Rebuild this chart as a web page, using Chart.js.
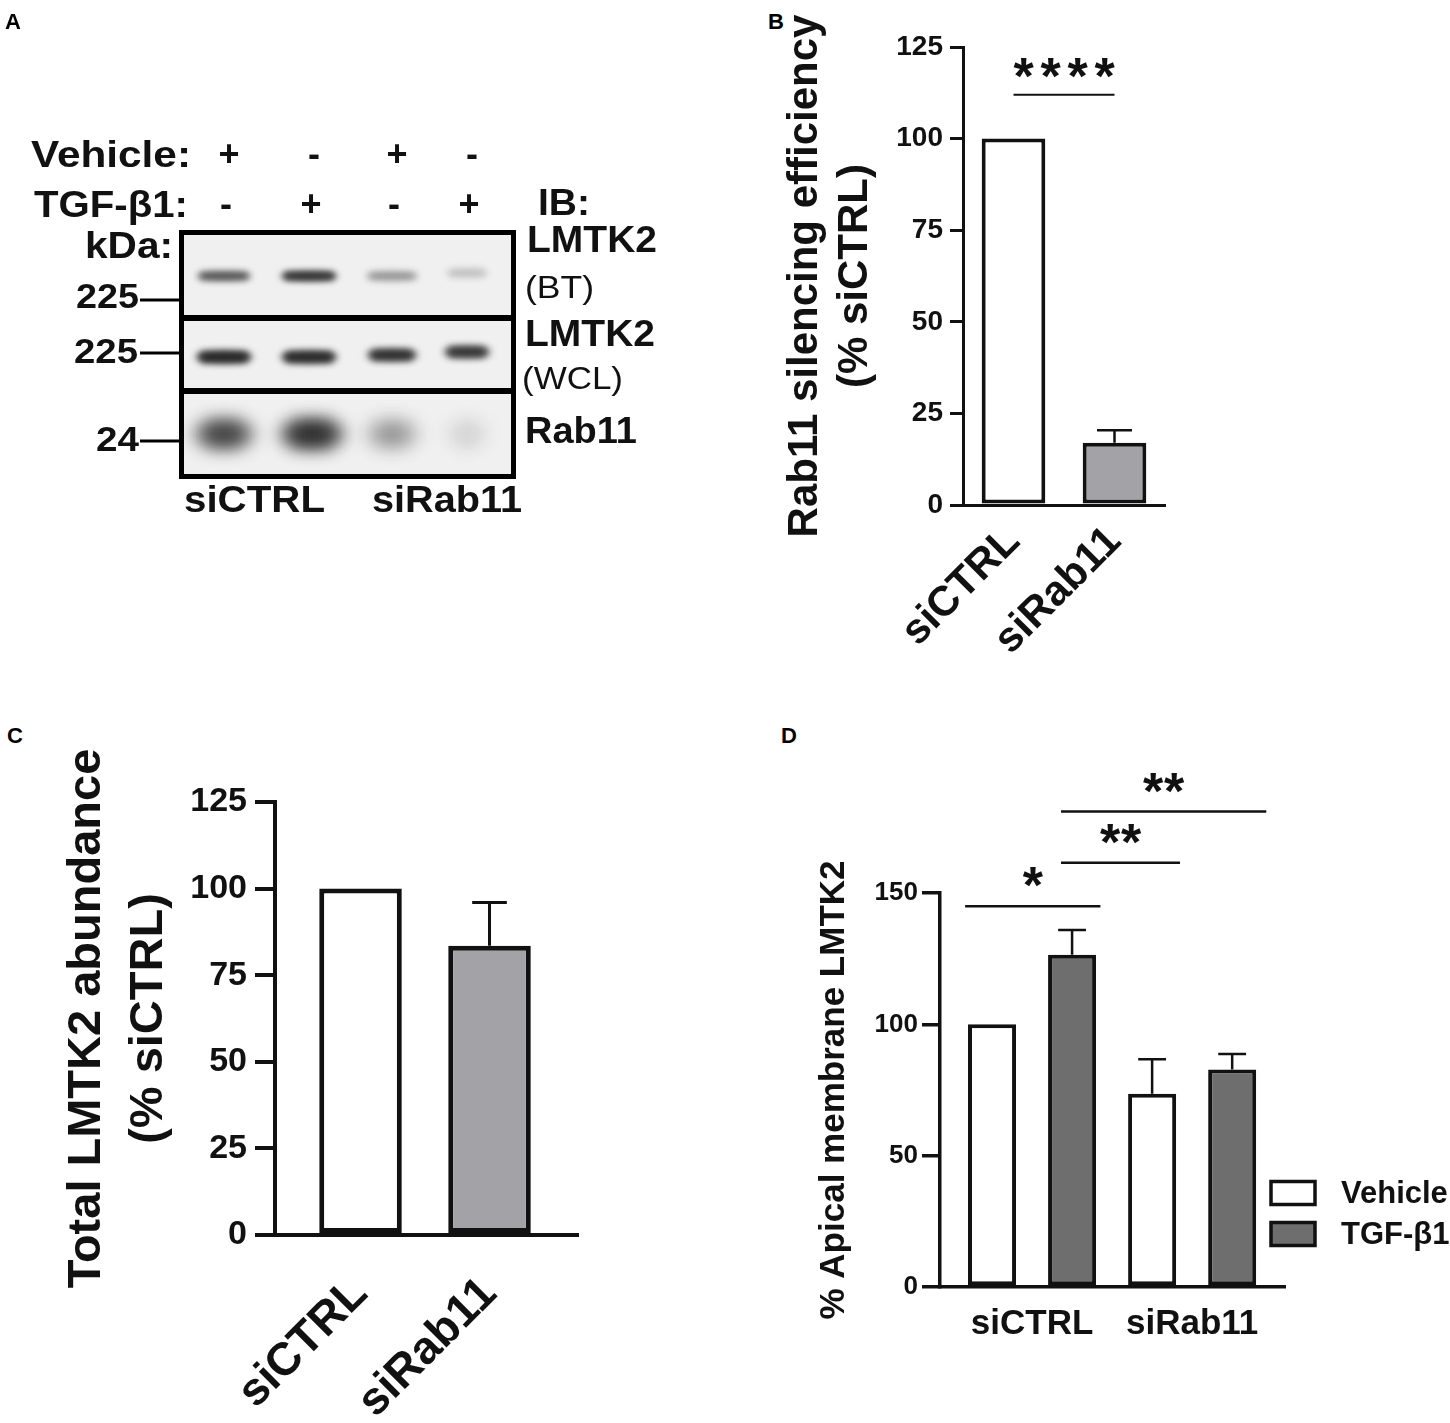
<!DOCTYPE html>
<html>
<head>
<meta charset="utf-8">
<script src="https://cdn.jsdelivr.net/npm/chart.js@4.4.0/dist/chart.umd.min.js"></script>
<style>
html, body { margin: 0; padding: 0; background: #fff; overflow: hidden; }
body { width: 1450px; height: 1423px; position: relative; font-family: "Liberation Sans", Arial, sans-serif; }
.panel { position: absolute; }
.tag { position: absolute; font: bold 22px "Liberation Sans", Arial, sans-serif; color: #000; line-height: 1; }
</style>
</head>
<body>
<canvas id="blot" width="700" height="540" style="position:absolute;left:0;top:0"></canvas>
<div class="tag" style="left:5px;top:11px">A</div>
<div class="tag" style="left:768px;top:11px">B</div>
<div class="tag" style="left:7px;top:725px">C</div>
<div class="tag" style="left:781px;top:725px">D</div>

<div class="panel" style="left:760px;top:0;width:440px;height:700px"><canvas id="chartB"></canvas></div>
<div class="panel" style="left:0;top:720px;width:620px;height:703px"><canvas id="chartC"></canvas></div>
<div class="panel" style="left:780px;top:720px;width:670px;height:703px"><canvas id="chartD"></canvas></div>

<script>
var FONT = '"Liberation Sans", Arial, sans-serif';

// ---- data ----
var groups = ['siCTRL', 'siRab11'];

// B: Rab11 silencing
var rab11Silencing = [100, 17.0];
var rab11SilencingErr = [0, 3.4];
var yTicksB = [0, 25, 50, 75, 100, 125];
var sigBFrom = [0], sigBTo = [1], sigBLevel = [112], sigBText = ['****'];

// C: total LMTK2
var lmtk2Total = [100, 83.5];
var lmtk2TotalErr = [0, 12.5];
var yTicksC = [0, 25, 50, 75, 100, 125];

// D: apical membrane LMTK2
var treatments = ['Vehicle', 'TGF-β1'];
var apicalVehicle = [100, 73.6];
var apicalVehicleErr = [0, 13.1];
var apicalTgf = [126.5, 82.8];
var apicalTgfErr = [9.4, 5.9];
var yTicksD = [0, 50, 100, 150];
var sigDFrom = [0, 1, 1], sigDTo = [1, 2, 3], sigDLevel = [145, 161.5, 181], sigDText = ['*', '**', '**'];

// A: blot
var vehicleSigns = ['+', '-', '+', '-'];
var tgfSigns = ['-', '+', '-', '+'];
var bandBT = [0.5, 0.72, 0.25, 0.12];
var bandWCL = [0.85, 0.82, 0.75, 0.7];
var bandRab11 = [0.6, 0.75, 0.25, 0.08];

// ---- panel A (blot picture) ----
var bc = document.getElementById('blot').getContext('2d');
function txt(s, x, y, size, w, weight) {
    bc.save();
    bc.font = (weight || 'bold') + ' ' + size + 'px ' + FONT;
    var m = bc.measureText(s).width;
    bc.translate(x, y);
    if (w) bc.scale(w / m, 1);
    bc.textAlign = 'left';
    bc.textBaseline = 'middle';
    bc.fillStyle = '#111';
    bc.fillText(s, 0, 0);
    bc.restore();
}
function ctxt(s, x, y, size) {
    bc.save();
    bc.font = 'bold ' + size + 'px ' + FONT;
    bc.textAlign = 'center';
    bc.textBaseline = 'middle';
    bc.fillStyle = '#111';
    bc.fillText(s, x, y);
    bc.restore();
}
function band(cx, cy, w, h, a) {
    bc.save();
    bc.filter = 'blur(' + Math.max(2, h / 3) + 'px)';
    bc.fillStyle = 'rgba(30,30,30,' + a + ')';
    bc.beginPath();
    bc.ellipse(cx, cy, w / 2, h / 2, 0, 0, Math.PI * 2);
    bc.fill();
    bc.fillRect(cx - w / 2 + h / 2, cy - h / 2, w - h, h);
    bc.restore();
}

var laneX = [224, 309, 392, 467];
txt('Vehicle:', 31, 157, 36, 160);
txt('TGF-β1:', 34, 207, 36, 154);
for (var i = 0; i < 4; i++) {
    ctxt(vehicleSigns[i], laneX[i] + 5, 156, 36);
    ctxt(tgfSigns[i], laneX[i] + 2, 206, 36);
}
txt('IB:', 538, 205, 36, 52);
txt('kDa:', 85, 248, 36, 88);

// blot frame
bc.fillStyle = '#f0f0f0';
bc.fillRect(181, 232, 333, 244);
bc.lineWidth = 5;
bc.strokeStyle = '#000';
bc.strokeRect(181.5, 232.5, 332, 244);
bc.lineWidth = 6;
bc.beginPath();
bc.moveTo(181, 318); bc.lineTo(514, 318);
bc.moveTo(181, 391); bc.lineTo(514, 391);
bc.stroke();

for (var i = 0; i < 4; i++) {
    band(laneX[i], 276 - (i === 3 ? 3 : 0), [56, 58, 54, 44][i], 9, bandBT[i]);
    band(laneX[i], 357 - (i === 3 ? 5 : i === 2 ? 2 : 0), [58, 58, 52, 48][i], 11, bandWCL[i]);
    band(laneX[i] + (i === 1 ? 3 : 0), 434, [62, 66, 56, 44][i], 26, bandRab11[i]);
}

// marker ladder
txt('225', 76, 298, 35, 63);
txt('225', 74, 353, 35, 64);
txt('24', 96, 441, 35, 43);
bc.lineWidth = 3;
bc.beginPath();
bc.moveTo(140, 300); bc.lineTo(181, 300);
bc.moveTo(140, 353); bc.lineTo(181, 353);
bc.moveTo(140, 441); bc.lineTo(181, 441);
bc.stroke();

txt('LMTK2', 527, 242, 36, 130);
txt('(BT)', 525, 289, 31, 69, 'normal');
txt('LMTK2', 525, 336, 36, 130);
txt('(WCL)', 522, 380, 31, 101, 'normal');
txt('Rab11', 525, 433, 36, 112);
txt('siCTRL', 184, 502, 36, 141);
txt('siRab11', 372, 502, 36, 150);

// ---- chart plugins ----
var errorBars = {
    id: 'errorBars',
    afterDatasetsDraw: function(chart, args, opts) {
        var ctx = chart.ctx, y = chart.scales.y;
        chart.data.datasets.forEach(function(ds, d) {
            if (!ds.errors) return;
            chart.getDatasetMeta(d).data.forEach(function(bar, i) {
                var e = ds.errors[i];
                if (!e) return;
                var raw = ds.data[i];
                var v = (typeof raw === 'object') ? raw.y : raw;
                var top = y.getPixelForValue(v + e);
                var cap = bar.width * opts.cap / 2;
                ctx.save();
                ctx.strokeStyle = '#111';
                ctx.lineWidth = opts.width;
                ctx.beginPath();
                ctx.moveTo(bar.x, bar.y);
                ctx.lineTo(bar.x, top);
                ctx.moveTo(bar.x - cap, top);
                ctx.lineTo(bar.x + cap, top);
                ctx.stroke();
                ctx.restore();
            });
        });
    }
};

var sigBars = {
    id: 'sigBars',
    afterDraw: function(chart, args, o) {
        if (!o.from) return;
        var ctx = chart.ctx, y = chart.scales.y;
        var bars = [];
        var n = chart.data.datasets[0].data.length;
        for (var i = 0; i < n; i++) {
            chart.data.datasets.forEach(function(ds, d) {
                bars.push(chart.getDatasetMeta(d).data[i]);
            });
        }
        for (var k = 0; k < o.from.length; k++) {
            var a = bars[o.from[k]], b = bars[o.to[k]];
            var x1 = a.x + a.width * o.fromOff[k];
            var x2 = b.x + b.width * o.toOff[k];
            var ly = y.getPixelForValue(o.level[k]);
            ctx.save();
            ctx.strokeStyle = '#111';
            ctx.lineWidth = o.lineWidth;
            ctx.beginPath();
            ctx.moveTo(x1, ly);
            ctx.lineTo(x2, ly);
            ctx.stroke();
            ctx.font = 'bold ' + o.size + 'px ' + FONT;
            ctx.fillStyle = '#111';
            ctx.textAlign = 'center';
            ctx.textBaseline = 'alphabetic';
            var m = ctx.measureText('*');
            // put the glyph centre `gap` px above the line
            var base = ly - o.gap + (m.actualBoundingBoxAscent - m.actualBoundingBoxDescent) / 2;
            var s = o.text[k];
            var cx = (x1 + x2) / 2;
            for (var j = 0; j < s.length; j++) {
                ctx.fillText(s[j], cx + (j - (s.length - 1) / 2) * o.spacing, base);
            }
            ctx.restore();
        }
    }
};

var sideLegend = {
    id: 'sideLegend',
    afterDraw: function(chart, args, o) {
        if (!o.display) return;
        var ctx = chart.ctx, a = chart.chartArea;
        chart.data.datasets.forEach(function(ds, i) {
            var cy = a.bottom - o.bottomOffset + i * o.rowGap;
            var bx = a.right + o.dx;
            ctx.save();
            ctx.fillStyle = ds.backgroundColor;
            ctx.fillRect(bx, cy - o.boxH / 2, o.boxW, o.boxH);
            ctx.strokeStyle = ds.borderColor;
            ctx.lineWidth = o.lineWidth;
            ctx.strokeRect(bx, cy - o.boxH / 2, o.boxW, o.boxH);
            ctx.font = 'bold ' + o.size + 'px ' + FONT;
            ctx.fillStyle = '#111';
            ctx.textBaseline = 'middle';
            ctx.fillText(ds.label, bx + o.boxW + o.gap, cy + 1);
            ctx.restore();
        });
    }
};

function yAxis(ticks, width, tickFont, tickLen, tickPad, lw, title, titleSize, titleLH, titlePad) {
    return {
        min: ticks[0],
        max: ticks[ticks.length - 1],
        ticks: { stepSize: ticks[1] - ticks[0], color: '#111', padding: tickPad,
                 font: { family: FONT, size: tickFont, weight: 'bold' } },
        grid: { drawOnChartArea: false, color: '#111', tickLength: tickLen, lineWidth: lw },
        border: { color: '#111', width: lw },
        title: { display: true, text: title, color: '#111',
                 font: { family: FONT, size: titleSize, weight: 'bold', lineHeight: titleLH },
                 padding: { top: titlePad, bottom: 0 } },
        afterFit: function(s) { s.width = width; }
    };
}

// linear x axis with one tick per group, so the gaps can match the figure
function groupAxis(min, max, lw, height, fontSize, rot, pad) {
    return {
        type: 'linear', min: min, max: max, offset: false, bounds: 'data',
        grid: { display: false, drawTicks: false, offset: false },
        border: { color: '#111', width: lw },
        afterBuildTicks: function(s) { s.ticks = groups.map(function(g, i) { return { value: i + 1 }; }); },
        ticks: { color: '#111', minRotation: rot, maxRotation: rot, padding: pad, autoSkip: false,
                 callback: function(v) { return groups[v - 1]; },
                 font: { family: FONT, size: fontSize, weight: 'bold' } },
        afterFit: function(s) { s.height = height; }
    };
}

Chart.defaults.animation = false;
Chart.defaults.responsive = true;
Chart.defaults.maintainAspectRatio = false;
Chart.defaults.plugins.legend.display = false;
Chart.defaults.plugins.tooltip.enabled = false;

// ---- B ----
new Chart(document.getElementById('chartB'), {
    type: 'bar',
    data: {
        labels: groups,
        datasets: [{
            data: rab11Silencing,
            errors: rab11SilencingErr,
            backgroundColor: ['#ffffff', '#a3a3a7'],
            borderColor: '#111',
            borderWidth: 4,
            borderSkipped: false,
            barPercentage: 0.63,
            categoryPercentage: 1
        }]
    },
    options: {
        layout: { padding: { top: 47, right: 35, left: 0, bottom: 0 } },
        plugins: {
            errorBars: { cap: 0.55, width: 2.5 },
            sigBars: { from: sigBFrom, to: sigBTo, level: sigBLevel, text: sigBText,
                       fromOff: [0], toOff: [0], lineWidth: 2, size: 52, gap: 27, spacing: 27 }
        },
        scales: {
            x: {
                grid: { display: false, drawTicks: false },
                border: { color: '#111', width: 3 },
                ticks: { color: '#111', minRotation: 45, maxRotation: 45, padding: 12,
                         font: { family: FONT, size: 42, weight: 'bold' } },
                afterFit: function(s) { s.height = 195; }
            },
            y: yAxis(yTicksB, 203, 28, 13, 7, 3, ['Rab11 silencing efficiency', '(% siCTRL)'], 42, 1.2, 20)
        }
    },
    plugins: [errorBars, sigBars]
});

// ---- C ----
new Chart(document.getElementById('chartC'), {
    type: 'bar',
    data: {
        datasets: [{
            data: groups.map(function(g, i) { return { x: i + 1, y: lmtk2Total[i] }; }),
            errors: lmtk2TotalErr,
            backgroundColor: ['#ffffff', '#a3a3a7'],
            borderColor: '#111',
            borderWidth: 5,
            borderSkipped: false,
            barPercentage: 0.64,
            categoryPercentage: 1
        }]
    },
    options: {
        layout: { padding: { top: 82, right: 42, left: 0, bottom: 0 } },
        plugins: { errorBars: { cap: 0.42, width: 3 } },
        scales: {
            x: groupAxis(0.337, 2.686, 4, 188, 46, 45, 32),
            y: yAxis(yTicksC, 275, 34, 20, 8, 4, ['Total LMTK2 abundance', '(% siCTRL)'], 47, 1.32, 56)
        }
    },
    plugins: [errorBars]
});

// ---- D ----
new Chart(document.getElementById('chartD'), {
    type: 'bar',
    data: {
        datasets: [{
            label: treatments[0],
            data: groups.map(function(g, i) { return { x: i + 1, y: apicalVehicle[i] }; }),
            errors: apicalVehicleErr,
            backgroundColor: '#ffffff',
            borderColor: '#111',
            borderWidth: 4,
            borderSkipped: false,
            barPercentage: 0.6,
            categoryPercentage: 1
        }, {
            label: treatments[1],
            data: groups.map(function(g, i) { return { x: i + 1, y: apicalTgf[i] }; }),
            errors: apicalTgfErr,
            backgroundColor: '#6e6e6e',
            borderColor: '#111',
            borderWidth: 4,
            borderSkipped: false,
            barPercentage: 0.6,
            categoryPercentage: 1
        }]
    },
    options: {
        layout: { padding: { top: 173, right: 165, left: 0, bottom: 0 } },
        plugins: {
            errorBars: { cap: 0.58, width: 2.5 },
            sigBars: { from: sigDFrom, to: sigDTo, level: sigDLevel, text: sigDText,
                       fromOff: [-0.56, -0.23, -0.23], toOff: [0.59, 0.58, 0.71],
                       lineWidth: 2.5, size: 52, gap: 29, spacing: 21 },
            sideLegend: { display: true, bottomOffset: 94, rowGap: 41, dx: -14, boxW: 44, boxH: 23,
                          lineWidth: 3.5, gap: 26, size: 31 }
        },
        scales: {
            x: groupAxis(0.425, 2.58, 3.5, 136, 35, 0, 16),
            y: yAxis(yTicksD, 160, 26, 18, 4, 3.5, '% Apical membrane LMTK2', 35, 1.2, 33)
        }
    },
    plugins: [errorBars, sigBars, sideLegend]
});
</script>
</body>
</html>
